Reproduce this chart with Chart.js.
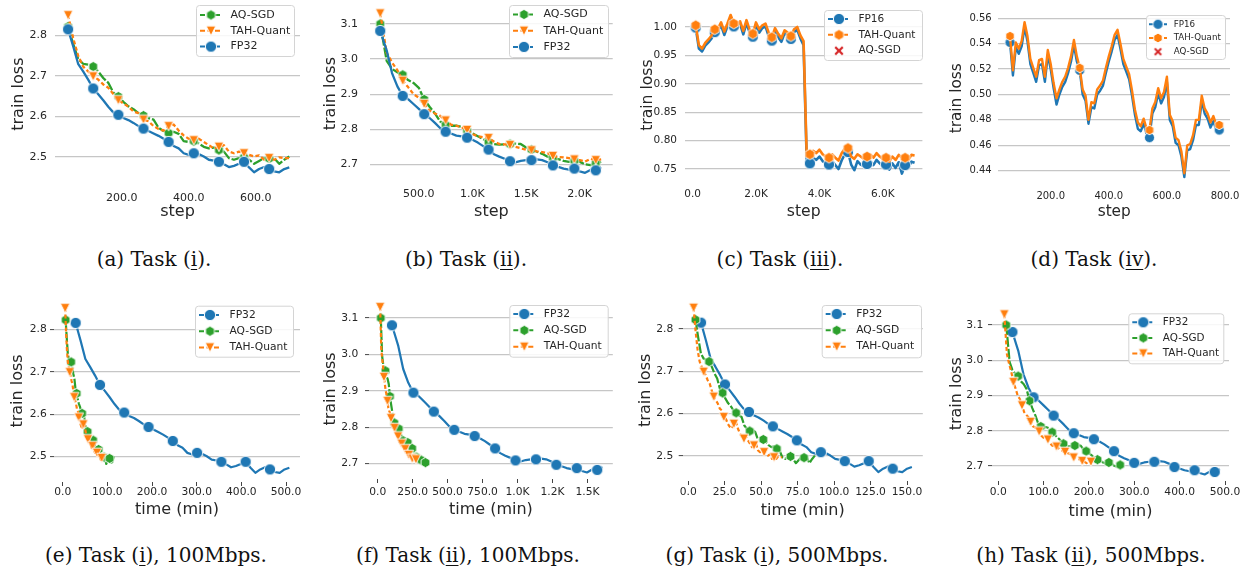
<!DOCTYPE html>
<html>
<head>
<meta charset="utf-8">
<script src="https://cdn.jsdelivr.net/npm/chart.js@4.4.1/dist/chart.umd.min.js"></script>
<style>
  body { margin: 0; background: #fff; width: 1250px; height: 573px; overflow: hidden; position: relative; }
  canvas { position: absolute; }
  .cap { position: absolute; font-family: "DejaVu Serif", serif; font-size: 20px; line-height: 24px; color: #111;
         white-space: nowrap; transform: translateX(-50%); }
  .cap u { text-underline-offset: 3px; text-decoration-thickness: 1px; }
</style>
</head>
<body>
<script>
// Datos

// Task (i): pasos y perdida de entrenamiento
const stepsI = [40, 55, 70, 85, 100, 115, 130, 145, 160, 175, 190, 205, 220, 235, 250, 265, 280, 295, 310, 325, 340, 355, 370, 385, 400, 415, 430, 445, 460, 475, 490, 505, 520, 535, 550, 565, 580, 595, 610, 625, 640, 655, 670, 685, 700];
const lossI_fp32 = [2.815, 2.774, 2.730, 2.711, 2.691, 2.669, 2.655, 2.640, 2.624, 2.610, 2.604, 2.596, 2.591, 2.584, 2.576, 2.570, 2.564, 2.558, 2.552, 2.545, 2.537, 2.527, 2.521, 2.509, 2.505, 2.509, 2.507, 2.501, 2.493, 2.491, 2.488, 2.482, 2.475, 2.478, 2.483, 2.488, 2.474, 2.462, 2.470, 2.475, 2.470, 2.464, 2.462, 2.470, 2.474];
const lossI_aq = [2.822, 2.780, 2.742, 2.730, 2.728, 2.723, 2.711, 2.695, 2.683, 2.659, 2.649, 2.636, 2.625, 2.618, 2.608, 2.602, 2.596, 2.592, 2.572, 2.564, 2.559, 2.562, 2.557, 2.539, 2.537, 2.539, 2.533, 2.525, 2.521, 2.523, 2.517, 2.513, 2.497, 2.493, 2.497, 2.499, 2.493, 2.483, 2.490, 2.497, 2.496, 2.497, 2.483, 2.493, 2.501];
const lossI_tah = [2.850, 2.794, 2.750, 2.723, 2.711, 2.699, 2.691, 2.679, 2.671, 2.655, 2.640, 2.632, 2.624, 2.612, 2.608, 2.592, 2.588, 2.576, 2.569, 2.565, 2.576, 2.580, 2.565, 2.553, 2.545, 2.541, 2.545, 2.537, 2.529, 2.521, 2.525, 2.529, 2.513, 2.509, 2.513, 2.509, 2.505, 2.501, 2.504, 2.493, 2.497, 2.493, 2.499, 2.497, 2.497];

// Task (ii)
const stepsII = [140, 200, 250, 300, 350, 400, 450, 500, 550, 600, 650, 700, 750, 800, 850, 900, 950, 1000, 1050, 1100, 1150, 1200, 1250, 1300, 1350, 1400, 1450, 1500, 1550, 1600, 1650, 1700, 1750, 1800, 1850, 1900, 1950, 2000, 2050, 2100, 2150, 2200];
const lossII_fp32 = [3.080, 3.025, 2.960, 2.922, 2.895, 2.886, 2.872, 2.858, 2.843, 2.832, 2.818, 2.803, 2.793, 2.788, 2.782, 2.780, 2.776, 2.770, 2.762, 2.752, 2.742, 2.729, 2.722, 2.716, 2.709, 2.706, 2.710, 2.712, 2.712, 2.714, 2.712, 2.706, 2.697, 2.693, 2.688, 2.685, 2.688, 2.680, 2.676, 2.684, 2.683, 2.692];
const lossII_aq = [3.100, 2.995, 2.972, 2.962, 2.955, 2.940, 2.932, 2.918, 2.885, 2.864, 2.845, 2.822, 2.812, 2.810, 2.810, 2.807, 2.796, 2.788, 2.780, 2.772, 2.763, 2.758, 2.756, 2.757, 2.758, 2.759, 2.758, 2.748, 2.742, 2.736, 2.730, 2.722, 2.718, 2.715, 2.710, 2.707, 2.710, 2.707, 2.700, 2.698, 2.703, 2.707];
const lossII_tah = [3.130, 3.018, 2.990, 2.968, 2.938, 2.920, 2.900, 2.890, 2.872, 2.853, 2.845, 2.838, 2.825, 2.813, 2.810, 2.806, 2.798, 2.786, 2.780, 2.777, 2.775, 2.765, 2.758, 2.757, 2.755, 2.750, 2.746, 2.742, 2.740, 2.737, 2.735, 2.732, 2.724, 2.721, 2.720, 2.718, 2.714, 2.712, 2.708, 2.716, 2.712, 2.714];

// Task (iii)
const stepsIII = [100, 200, 300, 400, 500, 600, 700, 800, 900, 1000, 1100, 1200, 1300, 1400, 1500, 1600, 1700, 1800, 1900, 2000, 2100, 2200, 2300, 2400, 2500, 2600, 2700, 2800, 2900, 3000, 3100, 3200, 3300, 3400, 3500, 3600, 3700, 3800, 3900, 4000, 4100, 4200, 4300, 4400, 4500, 4600, 4700, 4800, 4900, 5000, 5100, 5200, 5300, 5400, 5500, 5600, 5700, 5800, 5900, 6000, 6100, 6200, 6300, 6400, 6500, 6600, 6700, 6800, 6900, 7000];
const lossIII_tah = [1.003, 0.968, 0.962, 0.972, 0.978, 0.985, 0.996, 0.997, 1.008, 0.992,
  1.006, 1.021, 1.006, 1.002, 1.010, 0.993, 1.012, 0.995, 0.988, 1.008,
  0.996, 1.003, 1.006, 0.990, 0.982, 0.998, 0.988, 0.980, 0.994, 0.990,
  0.984, 0.996, 1.000, 0.985, 0.975, 0.772, 0.776, 0.782, 0.778, 0.784,
  0.776, 0.772, 0.770, 0.776, 0.770, 0.765, 0.778, 0.786, 0.787, 0.772,
  0.768, 0.776, 0.772, 0.768, 0.772, 0.776, 0.770, 0.778, 0.772, 0.768,
  0.770, 0.763, 0.772, 0.766, 0.775, 0.770, 0.770, 0.766, 0.775, 0.774];
const lossIII_fp16 = [0.999, 0.962, 0.957, 0.967, 0.973, 0.980, 0.991, 0.993, 1.003, 0.986,
  1.001, 1.015, 1.001, 0.997, 1.005, 0.987, 1.007, 0.990, 0.983, 1.003,
  0.990, 0.998, 1.001, 0.984, 0.976, 0.993, 0.982, 0.974, 0.989, 0.985,
  0.979, 0.991, 0.995, 0.980, 0.968, 0.762, 0.760, 0.770, 0.766, 0.772,
  0.764, 0.760, 0.758, 0.764, 0.757, 0.750, 0.765, 0.776, 0.780, 0.758,
  0.748, 0.764, 0.758, 0.755, 0.759, 0.764, 0.757, 0.766, 0.760, 0.755,
  0.758, 0.749, 0.760, 0.752, 0.762, 0.742, 0.757, 0.752, 0.763, 0.761];

// Task (iv)
const stepsIV = [60, 70, 80, 90, 100, 110, 120, 130, 140, 150, 160, 170, 180, 190, 200, 210, 220, 230, 240, 250, 260, 270, 280, 290, 300, 310, 320, 330, 340, 350, 360, 370, 380, 390, 400, 410, 420, 430, 440, 450, 460, 470, 480, 490, 500, 510, 520, 530, 540, 550, 560, 570, 580, 590, 600, 610, 620, 630, 640, 650, 660, 670, 680, 690, 700, 710, 720, 730, 740, 750, 760, 770, 780, 790];
const lossIV_tah = [0.546, 0.519, 0.541, 0.536, 0.542, 0.557, 0.546, 0.528, 0.521, 0.514,
  0.527, 0.528, 0.514, 0.535, 0.524, 0.509, 0.497, 0.504, 0.510, 0.514,
  0.521, 0.530, 0.543, 0.530, 0.521, 0.504, 0.499, 0.480, 0.494, 0.493,
  0.504, 0.507, 0.511, 0.521, 0.530, 0.538, 0.547, 0.551, 0.540, 0.528,
  0.522, 0.516, 0.503, 0.488, 0.478, 0.475, 0.481, 0.473, 0.472, 0.489,
  0.494, 0.505, 0.497, 0.502, 0.514, 0.484, 0.479, 0.466, 0.464, 0.455,
  0.438, 0.460, 0.461, 0.468, 0.480, 0.480, 0.499, 0.489, 0.485, 0.478,
  0.483, 0.476, 0.476, 0.474];
const lossIV_fp16 = [0.541, 0.515, 0.537, 0.532, 0.538, 0.553, 0.542, 0.524, 0.517, 0.510,
  0.523, 0.524, 0.510, 0.531, 0.520, 0.505, 0.492, 0.500, 0.506, 0.510,
  0.517, 0.526, 0.539, 0.526, 0.519, 0.500, 0.495, 0.477, 0.490, 0.489,
  0.500, 0.503, 0.507, 0.517, 0.526, 0.534, 0.543, 0.547, 0.536, 0.524,
  0.518, 0.512, 0.499, 0.484, 0.473, 0.471, 0.477, 0.469, 0.466, 0.485,
  0.490, 0.501, 0.493, 0.498, 0.510, 0.480, 0.475, 0.462, 0.460, 0.451,
  0.435, 0.456, 0.457, 0.464, 0.476, 0.476, 0.495, 0.485, 0.481, 0.474,
  0.479, 0.472, 0.472, 0.471];

const minPerStepI_100 = [0.725, 0.164, 0.136];
const minPerStepII_100 = [0.730, 0.159, 0.127];
const minPerStepI_500 = [0.219, 0.124, 0.092];
const minPerStepII_500 = [0.222, 0.125, 0.095];

// ticks
const yTicksI = [2.5, 2.6, 2.7, 2.8];
const yLabelsI = ['2.5', '2.6', '2.7', '2.8'];
const yTicksII = [2.7, 2.8, 2.9, 3.0, 3.1];
const yLabelsII = ['2.7', '2.8', '2.9', '3.0', '3.1'];
const yTicksIII = [0.75, 0.80, 0.85, 0.90, 0.95, 1.00];
const yLabelsIII = ['0.75', '0.80', '0.85', '0.90', '0.95', '1.00'];
const yTicksIV = [0.44, 0.46, 0.48, 0.50, 0.52, 0.54, 0.56];
const yLabelsIV = ['0.44', '0.46', '0.48', '0.50', '0.52', '0.54', '0.56'];
const xTicksA = [200, 400, 600];
const xLabelsA = ['200.0', '400.0', '600.0'];
const xTicksB = [500, 1000, 1500, 2000];
const xLabelsB = ['500.0', '1.0K', '1.5K', '2.0K'];
const xTicksC = [0, 2000, 4000, 6000];
const xLabelsC = ['0.0', '2.0K', '4.0K', '6.0K'];
const xTicksD = [200, 400, 600, 800];
const xLabelsD = ['200.0', '400.0', '600.0', '800.0'];
const xTicksE = [0, 100, 200, 300, 400, 500];
const xLabelsE = ['0.0', '100.0', '200.0', '300.0', '400.0', '500.0'];
const xTicksF = [0, 250, 500, 750, 1000, 1250, 1500];
const xLabelsF = ['0.0', '250.0', '500.0', '750.0', '1.0K', '1.2K', '1.5K'];
const xTicksG = [0, 25, 50, 75, 100, 125, 150];
const xLabelsG = ['0.0', '25.0', '50.0', '75.0', '100.0', '125.0', '150.0'];
const xTicksH = [0, 100, 200, 300, 400, 500];
const xLabelsH = ['0.0', '100.0', '200.0', '300.0', '400.0', '500.0'];

const captions = [
  ['(a) Task (', 'i', ').'], ['(b) Task (', 'ii', ').'], ['(c) Task (', 'iii', ').'], ['(d) Task (', 'iv', ').'],
  ['(e) Task (', 'i', '), 100Mbps.'], ['(f) Task (', 'ii', '), 100Mbps.'], ['(g) Task (', 'i', '), 500Mbps.'], ['(h) Task (', 'ii', '), 500Mbps.']
];

// estilo
const BLUE = '#1f77b4', ORANGE = '#ff7f0e', GREEN = '#2ca02c', RED = '#d62728';
const INK = '#262626';
const FONT = '"DejaVu Sans", sans-serif';

// posicion de cada panel en la pagina
const L = {
  a: {box: [0, 0, 310, 225], area: [55, 0, 300, 181], xr: [1, 732], yr: [2.4405, 2.8695], tf: 11, gap: 8, ytx: 18.7, xly: 198.3, xty: 211.7, ttl: 16, tick: false, lw: 2.3,
      leg: {x: 196, y: 5, w: 98, h: 51, font: 11, first: 10, rowH: 15.8, l0: 4, l1: 26, mx: 15, tx: 34.5}},
  b: {box: [310, 0, 310, 225], area: [370, 0, 615, 180], xr: [44.7, 2307.5], yr: [2.6555, 3.1473], tf: 11, gap: 12, ytx: 330.7, xly: 194.3, xty: 211.7, ttl: 16, tick: false, lw: 2.3,
      leg: {x: 509, y: 5, w: 99, h: 52, font: 11, first: 9.5, rowH: 16.2, l0: 4, l1: 26, mx: 15, tx: 34.5}},
  c: {box: [620, 0, 310, 225], area: [685, 6.5, 927, 182.7], xr: [-238, 7246], yr: [0.726, 1.0341], tf: 10.5, gap: 8, ytx: 648, xly: 194.3, xty: 212.3, ttl: 15.6, tick: false, lw: 2.6,
      leg: {x: 824, y: 10, w: 98, h: 50, font: 10.5, first: 9, rowH: 15.85, l0: 4, l1: 26, mx: 15, tx: 34.5}},
  d: {box: [930, 0, 320, 225], area: [998.4, 13.1, 1230, 183.5], xr: [20, 817.2], yr: [0.4299, 0.5641], tf: 10, gap: 6.7, ytx: 956.7, xly: 196.7, xty: 212.3, ttl: 15.3, tick: false, lw: 2.4,
      leg: {x: 1146, y: 15, w: 79, h: 44, font: 8.7, first: 9.3, rowH: 13.7, l0: 3, l1: 21, mx: 12, tx: 27.7}},
  e: {box: [0, 290, 310, 235], area: [54, 300, 300, 482], xr: [-19.5, 531.3], yr: [2.4404, 2.869], tf: 10.7, gap: 7.3, ytx: 18.3, xly: 492.3, xty: 510, ttl: 16, tick: true, lw: 2.2,
      leg: {x: 195, y: 305.7, w: 98, h: 51, font: 10.7, first: 9.3, rowH: 16.2, l0: 4, l1: 26, mx: 15, tx: 34.5}},
  f: {box: [310, 290, 310, 235], area: [369, 299, 613, 479], xr: [-62.1, 1681], yr: [2.658, 3.1522], tf: 10.7, gap: 10.7, ytx: 330.7, xly: 492.3, xty: 510, ttl: 16, tick: true, lw: 2.2,
      leg: {x: 509.3, y: 305, w: 98.4, h: 51.7, font: 10.7, first: 9, rowH: 16.35, l0: 4, l1: 26, mx: 15, tx: 34.5}},
  g: {box: [620, 290, 310, 235], area: [682.7, 299.6, 926, 481], xr: [-3.8, 160.8], yr: [2.4409, 2.8695], tf: 10.7, gap: 9.4, ytx: 646, xly: 492.3, xty: 510.7, ttl: 16, tick: true, lw: 2.2,
      leg: {x: 821.7, y: 305, w: 99.3, h: 52.3, font: 10.7, first: 9, rowH: 16.35, l0: 4, l1: 26, mx: 15, tx: 34.5}},
  h: {box: [930, 290, 320, 235], area: [992, 306.5, 1229, 481], xr: [-13.9, 508.8], yr: [2.6574, 3.1525], tf: 10.7, gap: 8.7, ytx: 956.7, xly: 492.3, xty: 511.7, ttl: 16, tick: true, lw: 2.2,
      leg: {x: 1128.3, y: 313.3, w: 95, h: 50, font: 10.4, first: 9, rowH: 15.6, l0: 4, l1: 26, mx: 15, tx: 34.5}}
};
const capPos = [[154, 247], [466, 247], [780, 247], [1094, 247], [156, 543], [468, 543], [777, 543], [1091, 543]];

// marcadores tipo matplotlib (borde blanco)
function makeMarker(type, color, s) {
  const r = {circle: 5.6, tri: 4.8, hex: 5.1, x: 3.8}[type] * s;
  const size = Math.ceil(2 * r + 4);
  const c = document.createElement('canvas');
  c.width = size; c.height = size;
  const g = c.getContext('2d');
  g.translate(size / 2, size / 2);
  g.beginPath();
  if (type === 'x') {
    g.strokeStyle = color; g.lineWidth = 2.3 * s;
    g.moveTo(-r, -r); g.lineTo(r, r); g.moveTo(r, -r); g.lineTo(-r, r);
    g.stroke();
    return c;
  }
  if (type === 'circle') g.arc(0, 0, r, 0, Math.PI * 2);
  if (type === 'tri') { g.moveTo(0, r); g.lineTo(-r, -r); g.lineTo(r, -r); g.closePath(); }
  if (type === 'hex') {
    for (let k = 0; k < 6; k++) {
      const a = -Math.PI / 2 + k * Math.PI / 3;
      if (k === 0) g.moveTo(r * Math.cos(a), r * Math.sin(a)); else g.lineTo(r * Math.cos(a), r * Math.sin(a));
    }
    g.closePath();
  }
  g.fillStyle = color; g.fill();
  g.strokeStyle = '#fff'; g.lineWidth = 0.9; g.stroke();
  return c;
}

function series(label, xs, ys, color, marker, dash, every, order, rate, ms, lw) {
  const img = makeMarker(marker, color, ms);
  return {
    label: label,
    data: ys.map((v, i) => ({x: rate ? xs[i] * rate : xs[i], y: v})),
    borderColor: color,
    backgroundColor: color,
    borderWidth: lw,
    borderDash: dash,
    borderJoinStyle: 'round',
    pointStyle: img,
    pointRadius: (c) => (c.dataIndex % every === 0 ? 5 : 0),
    pointHoverRadius: 0,
    tension: 0,
    fill: false,
    order: order,
    clip: false,
    legendMarker: img,
    legendLine: true
  };
}

function emptySeries(label, color, marker, ms) {
  const img = makeMarker(marker, color, ms);
  return {label: label, data: [], borderColor: color, legendMarker: img, legendLine: false, order: 9};
}

// leyenda con caja, linea discontinua y marcador
const boxLegend = {
  id: 'boxLegend',
  afterDraw(chart, args, o) {
    const g = chart.ctx;
    g.save();
    g.fillStyle = 'rgba(255,255,255,0.85)';
    g.strokeStyle = '#d4d4d4';
    g.lineWidth = 1;
    g.beginPath();
    g.roundRect(o.x + 0.5, o.y + 0.5, o.w, o.h, 3);
    g.fill(); g.stroke();
    g.font = o.font + 'px ' + FONT;
    g.textBaseline = 'middle';
    chart.data.datasets.forEach((ds, i) => {
      const cy = o.y + o.first + i * o.rowH;
      if (ds.legendLine) {
        g.strokeStyle = ds.borderColor;
        g.lineWidth = 2;
        g.setLineDash([5, 2.5]);
        g.beginPath(); g.moveTo(o.x + o.l0, cy); g.lineTo(o.x + o.l1, cy); g.stroke();
        g.setLineDash([]);
      }
      const img = ds.legendMarker;
      g.drawImage(img, o.x + o.mx - img.width / 2, cy - img.height / 2);
      g.fillStyle = INK;
      g.fillText(ds.label, o.x + o.tx, cy);
    });
    g.restore();
  }
};

function makePanel(p, datasets, xTicks, xLabels, yTicks, yLabels, xTitle) {
  const [x0, y0, w, h] = p.box;
  const [l, t, r, b] = p.area;
  const cv = document.createElement('canvas');
  cv.width = w; cv.height = h;
  cv.style.left = x0 + 'px'; cv.style.top = y0 + 'px';
  document.body.appendChild(cv);
  const tl = p.tick ? 4 : 0;
  const lh = p.tf * 1.2;
  const leg = Object.assign({}, p.leg, {x: p.leg.x - x0, y: p.leg.y - y0});

  new Chart(cv.getContext('2d'), {
    type: 'line',
    data: {datasets: datasets},
    options: {
      responsive: false,
      animation: false,
      devicePixelRatio: 1,
      layout: {padding: {left: 0, top: t - y0, right: x0 + w - r, bottom: 0}},
      plugins: {legend: {display: false}, tooltip: {enabled: false}, boxLegend: leg},
      scales: {
        x: {
          type: 'linear', min: p.xr[0], max: p.xr[1],
          afterBuildTicks: (s) => { s.ticks = xTicks.map((v) => ({value: v})); },
          afterFit: (s) => { s.height = y0 + h - b; s.paddingLeft = 0; s.paddingRight = 0; },
          ticks: {autoSkip: false, maxRotation: 0, padding: Math.max(0, p.xly - b - tl - lh / 2), color: INK,
                  font: {family: FONT, size: p.tf}, callback: (v) => xLabels[xTicks.indexOf(v)]},
          grid: {display: p.tick, drawOnChartArea: false, drawTicks: p.tick, tickLength: 4, color: '#444', lineWidth: 1},
          border: {display: false},
          title: {display: true, text: xTitle, color: INK, font: {family: FONT, size: p.ttl},
                  padding: {top: 0, bottom: y0 + h - p.xty - p.ttl * 0.6}}
        },
        y: {
          type: 'linear', min: p.yr[0], max: p.yr[1],
          afterBuildTicks: (s) => { s.ticks = yTicks.map((v) => ({value: v})); },
          afterFit: (s) => { s.width = l - x0; s.paddingTop = 0; s.paddingBottom = 0; },
          ticks: {padding: Math.max(0, p.gap - tl), color: INK, font: {family: FONT, size: p.tf}, callback: (v) => yLabels[yTicks.indexOf(v)]},
          grid: {color: '#c6c6c6', lineWidth: 1.2, drawTicks: p.tick, tickLength: 4, tickColor: '#444', tickWidth: 1},
          border: {display: false},
          title: {display: true, text: 'train loss', color: INK, font: {family: FONT, size: p.ttl},
                  padding: {top: p.ytx - x0 - p.ttl * 0.6, bottom: 0}}
        }
      }
    },
    plugins: [boxLegend]
  });
}

const DASH_AQ = [10, 2], DASH_TAH = [4, 2.5];

// (a)
makePanel(L.a, [
  series('AQ-SGD', stepsI, lossI_aq, GREEN, 'hex', DASH_AQ, 5, 3, null, 1, L.a.lw),
  series('TAH-Quant', stepsI, lossI_tah, ORANGE, 'tri', DASH_TAH, 5, 2, null, 1, L.a.lw),
  series('FP32', stepsI, lossI_fp32, BLUE, 'circle', [], 5, 1, null, 1, L.a.lw)
], xTicksA, xLabelsA, yTicksI, yLabelsI, 'step');

// (b)
makePanel(L.b, [
  series('AQ-SGD', stepsII, lossII_aq, GREEN, 'hex', DASH_AQ, 4, 3, null, 1, L.b.lw),
  series('TAH-Quant', stepsII, lossII_tah, ORANGE, 'tri', DASH_TAH, 4, 2, null, 1, L.b.lw),
  series('FP32', stepsII, lossII_fp32, BLUE, 'circle', [], 4, 1, null, 1, L.b.lw)
], xTicksB, xLabelsB, yTicksII, yLabelsII, 'step');

// (c)
makePanel(L.c, [
  series('FP16', stepsIII, lossIII_fp16, BLUE, 'circle', [], 6, 2, null, 1, L.c.lw),
  series('TAH-Quant', stepsIII, lossIII_tah, ORANGE, 'hex', [], 6, 1, null, 1.05, L.c.lw),
  emptySeries('AQ-SGD', RED, 'x', 1)
], xTicksC, xLabelsC, yTicksIII, yLabelsIII, 'step');

// (d)
makePanel(L.d, [
  series('FP16', stepsIV, lossIV_fp16, BLUE, 'circle', [], 24, 2, null, 0.9, L.d.lw),
  series('TAH-Quant', stepsIV, lossIV_tah, ORANGE, 'hex', [], 24, 1, null, 0.95, L.d.lw),
  emptySeries('AQ-SGD', RED, 'x', 0.85)
], xTicksD, xLabelsD, yTicksIV, yLabelsIV, 'step');

// (e) - (h): mismas curvas frente al tiempo
makePanel(L.e, [
  series('FP32', stepsI, lossI_fp32, BLUE, 'circle', [], 5, 3, minPerStepI_100[0], 1, L.e.lw),
  series('AQ-SGD', stepsI, lossI_aq, GREEN, 'hex', DASH_AQ, 5, 2, minPerStepI_100[1], 1, L.e.lw),
  series('TAH-Quant', stepsI, lossI_tah, ORANGE, 'tri', DASH_TAH, 5, 1, minPerStepI_100[2], 1, L.e.lw)
], xTicksE, xLabelsE, yTicksI, yLabelsI, 'time (min)');

makePanel(L.f, [
  series('FP32', stepsII, lossII_fp32, BLUE, 'circle', [], 4, 3, minPerStepII_100[0], 1, L.f.lw),
  series('AQ-SGD', stepsII, lossII_aq, GREEN, 'hex', DASH_AQ, 4, 2, minPerStepII_100[1], 1, L.f.lw),
  series('TAH-Quant', stepsII, lossII_tah, ORANGE, 'tri', DASH_TAH, 4, 1, minPerStepII_100[2], 1, L.f.lw)
], xTicksF, xLabelsF, yTicksII, yLabelsII, 'time (min)');

makePanel(L.g, [
  series('FP32', stepsI, lossI_fp32, BLUE, 'circle', [], 5, 3, minPerStepI_500[0], 1, L.g.lw),
  series('AQ-SGD', stepsI, lossI_aq, GREEN, 'hex', DASH_AQ, 5, 2, minPerStepI_500[1], 1, L.g.lw),
  series('TAH-Quant', stepsI, lossI_tah, ORANGE, 'tri', DASH_TAH, 5, 1, minPerStepI_500[2], 1, L.g.lw)
], xTicksG, xLabelsG, yTicksI, yLabelsI, 'time (min)');

makePanel(L.h, [
  series('FP32', stepsII, lossII_fp32, BLUE, 'circle', [], 4, 3, minPerStepII_500[0], 1, L.h.lw),
  series('AQ-SGD', stepsII, lossII_aq, GREEN, 'hex', DASH_AQ, 4, 2, minPerStepII_500[1], 1, L.h.lw),
  series('TAH-Quant', stepsII, lossII_tah, ORANGE, 'tri', DASH_TAH, 4, 1, minPerStepII_500[2], 1, L.h.lw)
], xTicksH, xLabelsH, yTicksII, yLabelsII, 'time (min)');

// subtitulos
captions.forEach((c, i) => {
  const d = document.createElement('div');
  d.className = 'cap';
  d.style.left = capPos[i][0] + 'px';
  d.style.top = capPos[i][1] + 'px';
  d.appendChild(document.createTextNode(c[0]));
  const u = document.createElement('u');
  u.textContent = c[1];
  d.appendChild(u);
  d.appendChild(document.createTextNode(c[2]));
  document.body.appendChild(d);
});
</script>
</body>
</html>
